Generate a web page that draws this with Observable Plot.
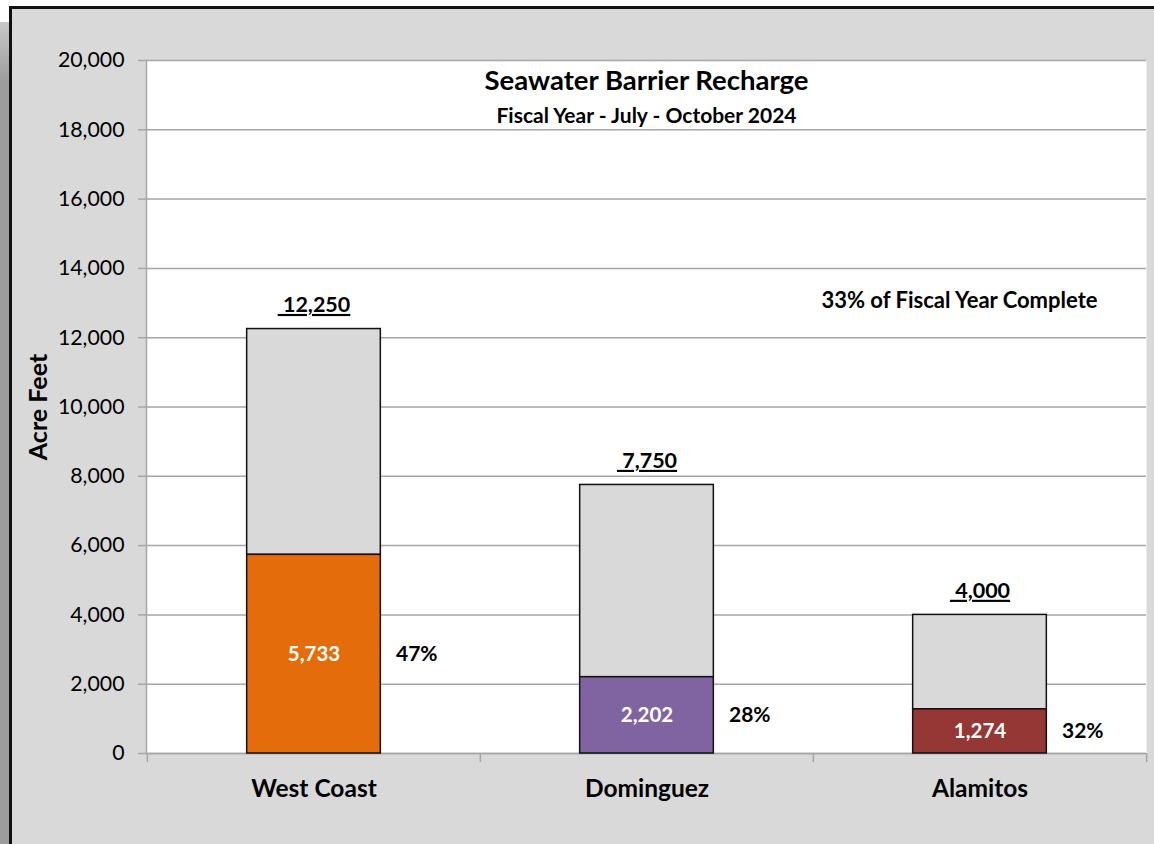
<!DOCTYPE html>
<html>
<head>
<meta charset="utf-8">
<script src="https://cdn.jsdelivr.net/npm/d3@7"></script>
<script src="https://cdn.jsdelivr.net/npm/@observablehq/plot@0.6"></script>
<style>
  html, body { margin: 0; padding: 0; background: #ffffff; width: 1154px; height: 844px; overflow: hidden; }
  #shadow { position: absolute; left: 0; top: 22px; width: 9px; height: 822px; background: linear-gradient(to bottom, #c8c8c8, #9c9c9c 60px, #9c9c9c); }
  #frame { position: absolute; left: 9px; top: 6px; right: 0; bottom: 0; border-top: 3px solid #111; border-left: 3px solid #111; background: #d9d9d9; }
  #chart { position: absolute; left: 0; top: 0; }
</style>
</head>
<body>
<div id="shadow"></div>
<div id="frame"></div>
<div id="chart"></div>
<script>
// ---- data ----
const categories = ["West Coast", "Dominguez", "Alamitos"];
const totals = [12250, 7750, 4000];
const actuals = [5733, 2202, 1274];
const percentLabels = ["47%", "28%", "32%"];
const yTicks = [0, 2000, 4000, 6000, 8000, 10000, 12000, 14000, 16000, 18000, 20000];
const barColors = ["#e46c0a", "#8064a2", "#953735"];
const titleText = "Seawater Barrier Recharge";
const subtitleText = "Fiscal Year - July - October 2024";
const noteText = "33% of Fiscal Year Complete";
const yLabel = "Acre Feet";

const data = categories.map((c, i) => ({cat: c, total: totals[i], actual: actuals[i], pct: percentLabels[i]}));

const font = "Lato, 'Open Sans', sans-serif";
const fmt = d3.format(",");
const W = 1154, H = 844;
const mL = 146, mR = 8, mT = 60, mB = 91;
const bandW = (W - mL - mR) / categories.length;
const barW = 134;
const inset = (bandW - barW) / 2;
const gridColor = "#a6a6a6";

const plot = Plot.plot({
  width: W,
  height: H,
  marginLeft: mL,
  marginRight: mR,
  marginTop: mT,
  marginBottom: mB,
  style: {background: "transparent", fontFamily: font, color: "#000"},
  x: {type: "band", domain: categories, padding: 0, label: null},
  y: {domain: [0, 20000], label: null},
  color: {type: "ordinal", domain: categories, range: barColors},
  marks: [
    Plot.frame({fill: "white"}),
    Plot.gridY(yTicks, {stroke: gridColor, strokeOpacity: 1, strokeWidth: 1.5}),
    Plot.axisY(yTicks, {tickSize: 8, tickPadding: 14, tickFormat: fmt, fontSize: 21.3, stroke: gridColor, strokeWidth: 1.5, fill: "#000", label: null}),
    Plot.axisX({tickSize: 0, tickPadding: 26, fontSize: 24.5, fontWeight: "bold", fill: "#000", label: null}),
    Plot.frame({anchor: "left", stroke: gridColor, strokeWidth: 1.5}),
    Plot.ruleY([0], {stroke: gridColor, strokeWidth: 1.5}),
    Plot.ruleX(categories, {x: d => d, y1: 0, y2: -260, dx: -bandW / 2, stroke: gridColor, strokeWidth: 1.5}),
    Plot.ruleX([categories[categories.length - 1]], {x: d => d, y1: 0, y2: -260, dx: bandW / 2, stroke: gridColor, strokeWidth: 1.5}),
    Plot.barY(data, {x: "cat", y1: "actual", y2: "total", fill: "#d9d9d9", stroke: "#111", strokeWidth: 1.5, insetLeft: inset, insetRight: inset}),
    Plot.barY(data, {x: "cat", y1: 0, y2: "actual", fill: "cat", stroke: "#111", strokeWidth: 1.5, insetLeft: inset, insetRight: inset}),
    Plot.text(data, {x: "cat", y: d => d.actual / 2, text: d => fmt(d.actual), fill: "white", fontWeight: "bold", fontSize: 20.5}),
    Plot.text(data, {x: "cat", y: d => d.actual / 2, text: "pct", textAnchor: "start", dx: barW / 2 + 15, fill: "#000", fontWeight: "bold", fontSize: 21}),
    Plot.text(data, {x: "cat", y: "total", text: d => "\u00a0" + fmt(d.total), dy: -24, fill: "#000", fontWeight: "bold", fontSize: 21.5, className: "totals"}),
    Plot.text([titleText], {frameAnchor: "top", dy: 10, fontSize: 27.5, fontWeight: "bold", fill: "#000"}),
    Plot.text([subtitleText], {frameAnchor: "top", dy: 48, fontSize: 21, fontWeight: "bold", fill: "#000"}),
    Plot.text([noteText], {frameAnchor: "top-right", dx: -49, dy: 232, textAnchor: "end", fontSize: 22, fontWeight: "bold", fill: "#000"}),
    Plot.text([yLabel], {frameAnchor: "left", dx: -108, rotate: -90, textAnchor: "middle", fontSize: 25, fontWeight: "bold", fill: "#000"})
  ]
});

plot.querySelectorAll("g.totals text").forEach(t => t.style.textDecoration = "underline");
document.getElementById("chart").appendChild(plot);
</script>
</body>
</html>
